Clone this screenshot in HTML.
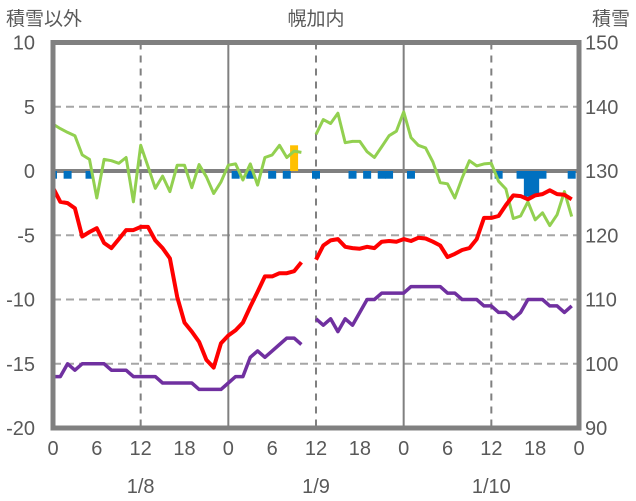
<!DOCTYPE html>
<html><head><meta charset="utf-8"><style>
html,body{margin:0;padding:0;background:#fff;}
svg{display:block;}
text{font-family:"Liberation Sans Narrow","Liberation Sans","Noto Sans CJK JP",sans-serif;fill:#595959;}
</style></head><body>
<svg id="chart" width="636" height="501" viewBox="0 0 636 501">
<text x="6" y="25" font-size="19" style="font-family:'Liberation Sans','Noto Sans CJK JP',sans-serif">積雪以外</text>
<text x="316" y="25" font-size="19" text-anchor="middle" style="font-family:'Liberation Sans','Noto Sans CJK JP',sans-serif">幌加内</text>
<text x="592" y="25" font-size="19" style="font-family:'Liberation Sans','Noto Sans CJK JP',sans-serif">積雪</text>
<g id="grid"></g>
<g id="bars"></g>
<g id="lines"></g>
<g id="frame"></g>
<g id="labels"></g>
</svg>
<script>
const leftTicks = [10, 5, 0, -5, -10, -15, -20];
const rightTicks = [150, 140, 130, 120, 110, 100, 90];
const hourLabels = ["0","6","12","18","0","6","12","18","0","6","12","18","0"];
const dateLabels = ["1/8","1/9","1/10"];
const tempRed = [-1.3,-2.4,-2.5,-2.9,-5.1,-4.75,-4.45,-5.6,-6.0,-5.3,-4.6,-4.6,-4.35,-4.35,-5.4,-6.0,-6.8,-9.8,-11.8,-12.5,-13.3,-14.7,-15.3,-13.4,-12.8,-12.4,-11.8,-10.55,-9.4,-8.2,-8.2,-7.95,-7.95,-7.8,-7.1,null,
 -6.9,-5.8,-5.4,-5.3,-5.9,-6.0,-6.05,-5.9,-6.0,-5.5,-5.45,-5.5,-5.3,-5.45,-5.2,-5.25,-5.5,-5.8,-6.7,-6.45,-6.15,-6.0,-5.3,-3.65,-3.65,-3.5,-2.65,-1.9,-1.95,-2.2,-1.9,-1.8,-1.5,-1.8,-1.85,-2.2];
const seriesGreen = [3.65,3.3,3.0,2.75,1.25,0.9,-2.1,0.9,0.8,0.6,1.05,-2.4,2.0,0.35,-1.35,-0.4,-1.6,0.45,0.45,-1.3,0.5,-0.45,-1.75,-0.85,0.45,0.55,-0.7,0.55,-1.1,1.05,1.25,2.0,1.05,1.55,1.45,null,
 2.85,4.0,3.7,4.5,2.2,2.3,2.3,1.5,1.05,1.9,2.75,3.1,4.6,2.6,2.0,1.8,0.7,-0.9,-1.0,-2.1,-0.55,0.8,0.4,0.55,0.6,-0.8,-1.4,-3.7,-3.5,-2.4,-3.8,-3.25,-4.25,-3.4,-1.6,-3.55];
const snowDepth = [98,98,100,99,100,100,100,100,99,99,99,98,98,98,98,97,97,97,97,97,96,96,96,96,97,98,98,101,102,101,102,103,104,104,103,null,
 107,106,107,105,107,106,108,110,110,111,111,111,111,112,112,112,112,112,111,111,110,110,110,109,109,108,108,107,108,110,110,110,109,109,108,109];
const blueHours = [0,2,5,25,27,30,32,36,41,43,45,46,49,61,64,65,66,67,71];
const blueValues = [-0.6,-0.6,-0.6,-0.6,-0.6,-0.6,-0.6,-0.6,-0.6,-0.6,-0.6,-0.6,-0.6,-0.6,-0.6,-2.0,-2.0,-0.6,-0.6];
const orangeHours = [33];
const orangeValues = [2.0];

const X0=53, X1=579, Y0=42.5, Y1=428;
const NS='http://www.w3.org/2000/svg';
function xS(h){return X0+(X1-X0)*h/72;}
function yL(v){return Y0+(10-v)*(Y1-Y0)/30;}
function yR(v){return Y0+(150-v)*(Y1-Y0)/60;}
function mk(tag,attrs,parent){const e=document.createElementNS(NS,tag);for(const k in attrs)e.setAttribute(k,attrs[k]);parent.appendChild(e);return e;}
const grid=document.getElementById('grid'),bars=document.getElementById('bars'),lines=document.getElementById('lines'),frame=document.getElementById('frame'),labels=document.getElementById('labels');

leftTicks.forEach(v=>{
  if(v===10||v===-20)return;
  const g=mk('line',{x1:X0,x2:X1,y1:yL(v),y2:yL(v),stroke:v===0?'#808080':'#a6a6a6','stroke-width':v===0?4:2,'stroke-dasharray':v===0?'none':'8,5'},grid);
  
  
});
for(let h=12;h<72;h+=12){
  const solid=h%24===0;
  const g=mk('line',{x1:xS(h),x2:xS(h),y1:Y0,y2:Y1,stroke:'#808080','stroke-width':2,'stroke-dasharray':solid?'none':'7,6'},grid);
  
  
}
function bar(hs,vs,color,name){
  hs.forEach((h,i)=>{
    let xa=Math.max(X0,xS(h)-4), xb=Math.min(X1,xS(h)+4);
    const y0=yL(0), y1=yL(vs[i]);
    const r=mk('rect',{x:xa,y:Math.min(y0,y1),width:xb-xa,height:Math.abs(y1-y0),fill:color},bars);
    
    
  });
}
bar(blueHours,blueValues,'#0070c0','snowfall-bar');
bar(orangeHours,orangeValues,'#ffc000','orange-bar');
function line(arr,yf,color,w,name){
  let d='',pen=false;
  arr.forEach((v,h)=>{ if(v===null){pen=false;return;} d+=(pen?'L':'M')+xS(h).toFixed(1)+','+yf(v).toFixed(1)+' '; pen=true; });
  const p=mk('path',{d:d,fill:'none',stroke:color,'stroke-width':w,'stroke-linejoin':'round'},lines);
  
  
}
line(seriesGreen,yL,'#92d050',3,'green-series-line');
line(snowDepth,yR,'#7030a0',3.5,'snow-depth-line');
line(tempRed,yL,'#ff0000',4,'temperature-line');
const fr=mk('rect',{x:X0,y:Y0,width:X1-X0,height:Y1-Y0,fill:'none',stroke:'#808080','stroke-width':5},frame);


leftTicks.forEach(v=>{
  const t=mk('text',{x:35,y:yL(v)+7,'font-size':20,'text-anchor':'end'},labels);
  t.textContent=v;
  
  
});
rightTicks.forEach(v=>{
  const t=mk('text',{x:585,y:yR(v)+7,'font-size':20},labels);
  t.textContent=v;
  
  
});
hourLabels.forEach((s,i)=>{
  const t=mk('text',{x:xS(i*6),y:455,'font-size':20,'text-anchor':'middle'},labels);
  t.textContent=s;
  
  
});
dateLabels.forEach((s,i)=>{
  const t=mk('text',{x:xS(12+24*i),y:493,'font-size':20,'text-anchor':'middle'},labels);
  t.textContent=s;
  
  
});
</script>
</body></html>
